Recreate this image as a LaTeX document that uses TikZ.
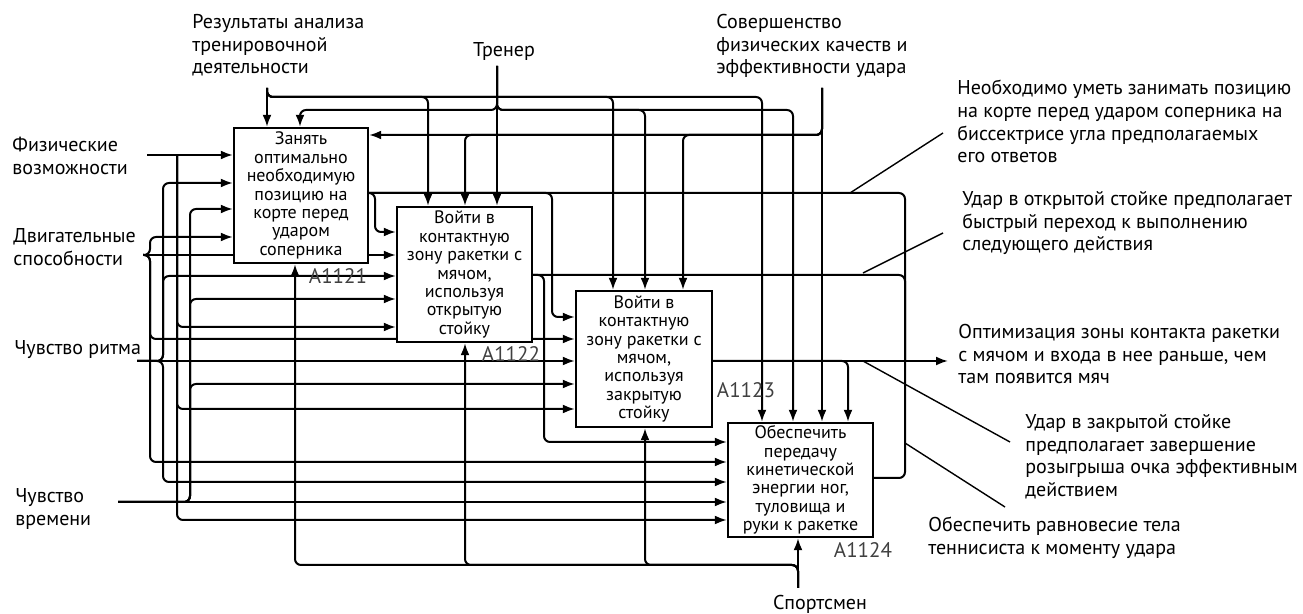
\documentclass[tikz,border=0pt]{standalone}
\usepackage{fontspec}
\setmainfont{PT Sans}
\usetikzlibrary{arrows.meta, backgrounds}
\tikzset{
  func/.style   = {rectangle, draw, line width=1.2pt, fill=white, align=center,
                   inner sep=1pt, font=\fontsize{9}{9.2}\selectfont},
  lbl/.style    = {align=left, inner sep=0pt, font=\fontsize{10}{11.3}\selectfont},
  code/.style   = {inner sep=0pt, font=\fontsize{10.5}{12}\selectfont, text=black!75},
  conn/.style   = {line width=1pt, rounded corners=3pt},
  arrow/.style  = {conn, -{Latex[length=6pt, width=4.5pt]}},
  callout/.style = {line width=0.7pt},
}

\begin{document}
\begin{tikzpicture}[x=0.5pt, y=-0.5pt]
    \useasboundingbox (0,0) rectangle (1303,614);

    %% Function boxes
    \node[func, minimum width=67pt,   minimum height=67.5pt] (b1) at (301,195.5)
        {Занять\\оптимально\\необходимую\\позицию на\\корте перед\\ударом\\соперника};
    \node[func, minimum width=67.5pt, minimum height=67.5pt] (b2) at (464.5,274.5)
        {Войти в\\контактную\\зону ракетки с\\мячом,\\используя\\открытую\\стойку};
    \node[func, minimum width=68pt,   minimum height=68pt]   (b3) at (644,359)
        {Войти в\\контактную\\зону ракетки с\\мячом,\\используя\\закрытую\\стойку};
    \node[func, minimum width=72.5pt, minimum height=57pt]   (b4) at (800.5,480)
        {Обеспечить\\передачу\\кинетической\\энергии ног,\\туловища и\\руки к ракетке};

    \node[code] (c1) at (338,276) {A1121};
    \node[code] (c2) at (511,354) {A1122};
    \node[code] (c3) at (746,390) {A1123};
    \node[code] (c4) at (863,550) {A1124};

    %% Inputs, controls, mechanism labels
    \node[lbl, anchor=west] (fiz) at (12,156) {Физические\\возможности};
    \node[lbl, anchor=west] (dvi) at (13,247) {Двигательные\\способности};
    \node[lbl, anchor=west] (rit) at (14,350) {Чувство ритма};
    \node[lbl, anchor=west] (vre) at (15,509) {Чувство\\времени};

    \node[lbl, anchor=north west] (res) at (192,14) {Результаты анализа\\тренировочной\\деятельности};
    \node[lbl] (tre) at (504,52) {Тренер};
    \node[lbl, anchor=north west] (sov) at (716,14) {Совершенство\\физических качеств и\\эффективности удара};
    \node[lbl] (spo) at (820,604) {Спортсмен};

    %% Outputs and notes
    \node[lbl, anchor=north west] (o1) at (957,80)
        {Необходимо уметь занимать позицию\\на корте перед ударом соперника на\\биссектрисе угла предполагаемых\\его ответов};
    \node[lbl, anchor=north west] (o2) at (962,191)
        {Удар в открытой стойке предполагает\\быстрый переход к выполнению\\следующего действия};
    \node[lbl, anchor=north west] (o3) at (958,324)
        {Оптимизация зоны контакта ракетки\\с мячом и входа в нее раньше, чем\\там появится мяч};
    \node[lbl, anchor=north west] (o4) at (1025,414)
        {Удар в закрытой стойке\\предполагает завершение\\розыгрыша очка эффективным\\действием};
    \node[lbl, anchor=north west] (o5) at (928,517)
        {Обеспечить равновесие тела\\теннисиста к моменту удара};

    %% Free ends and junctions
    \coordinate (inF)  at (147,155);
    \coordinate (inD)  at (143,255);
    \coordinate (inR)  at (137,361);
    \coordinate (inT)  at (118,502);
    \coordinate (jF)   at (177,155);
    \coordinate (jD)   at (150,255);
    \coordinate (jR)   at (163,361);
    \coordinate (jT)   at (190,502);
    \coordinate (ctR)  at (267,88);
    \coordinate (ctT)  at (497,66);
    \coordinate (ctS)  at (822,88);
    \coordinate (jRes) at (267,97);
    \coordinate (jTr)  at (497,110);
    \coordinate (jSov) at (822,135);
    \coordinate (meS)  at (798,588);
    \coordinate (jSp)  at (798,565);
    \coordinate (jOut) at (905,361);
    \coordinate (outE) at (948,361);

    \begin{scope}[on background layer]
    %% Физические возможности
    \draw[arrow] (inF) -- (b1.west |- inF);
    \draw[arrow] (jF) |- (b2.west |- 0,327);
    \draw[arrow] (jF) |- (b3.west |- 0,409);
    \draw[arrow] (jF) |- (b4.west |- 0,520);

    %% Двигательные способности
    \draw[arrow] (inD) -- (jD) |- (b1.west |- 0,237);
    \draw[arrow] (inD) -- (b2.west |- inD);
    \draw[arrow] (inD) -- (jD) |- (b3.west |- 0,339);
    \draw[arrow] (inD) -- (jD) |- (b4.west |- 0,462);

    %% Чувство ритма
    \draw[arrow] (inR) -- (jR) |- (b1.west |- 0,183);
    \draw[arrow] (inR) -- (jR) |- (b2.west |- 0,276);
    \draw[arrow] (inR) -- (b3.west |- inR);
    \draw[arrow] (inR) -- (jR) |- (b4.west |- 0,482);

    %% Чувство времени
    \draw[arrow] (inT) -- (jT) |- (b1.west |- 0,209);
    \draw[arrow] (inT) -- (jT) |- (b2.west |- 0,299);
    \draw[arrow] (inT) -- (jT) |- (b3.west |- 0,384);
    \draw[arrow] (inT) -- (b4.west |- inT);

    %% Controls
    \draw[arrow] (ctR) -- (b1.north -| ctR);
    \draw[arrow] (ctR) -- (jRes) -| (b2.north -| 428,0);
    \draw[arrow] (ctR) -- (jRes) -| (b3.north -| 613,0);
    \draw[arrow] (ctR) -- (jRes) -| (b4.north -| 762,0);

    \draw[arrow] (ctT) -- (b2.north -| ctT);
    \draw[arrow] (ctT) -- (jTr) -| (b1.north -| 300,0);
    \draw[arrow] (ctT) -- (jTr) -| (b3.north -| 645,0);
    \draw[arrow] (ctT) -- (jTr) -| (b4.north -| 793,0);

    \draw[arrow] (ctS) -- (b4.north -| ctS);
    \draw[arrow] (ctS) -- (jSov) -| (b3.north -| 683,0);
    \draw[arrow] (ctS) -- (jSov) -| (b2.north -| 465,0);
    \draw[arrow] (ctS) -- (jSov) -- (b1.east |- jSov);

    %% Mechanism
    \draw[arrow] (meS) -- (b4.south -| meS);
    \draw[arrow] (meS) -- (jSp) -| (b3.south -| 645,0);
    \draw[arrow] (meS) -- (jSp) -| (b2.south -| 465,0);
    \draw[arrow] (meS) -- (jSp) -| (b1.south -| 295,0);

    %% Outputs
    \draw[arrow] (b1.east |- 0,193) -| (375,232) -- (b2.west |- 0,232);
    \draw[arrow] (b1.east |- 0,193) -| (552,317) -- (b3.west |- 0,317);
    \draw[conn]  (b1.east |- 0,193) -| (jOut);
    \draw[arrow] (b2.east |- 0,275) -| (544,442) -- (b4.west |- 0,442);
    \draw[conn]  (b2.east |- 0,275) -| (jOut);
    \draw[arrow] (b3.east |- outE) -| (b4.north -| 848,0);
    \draw[arrow] (b3.east |- outE) -- (outE);
    \draw[conn]  (b4.east |- 0,478) -| (jOut);

    %% Notes
    \draw[callout] (850,193) -- (943,133);
    \draw[callout] (863,273) -- (943,233);
    \draw[callout] (863,361) -- (1010,442);
    \draw[callout] (905,443) -- (1005,507);
    \end{scope}

\end{tikzpicture}
\end{document}
